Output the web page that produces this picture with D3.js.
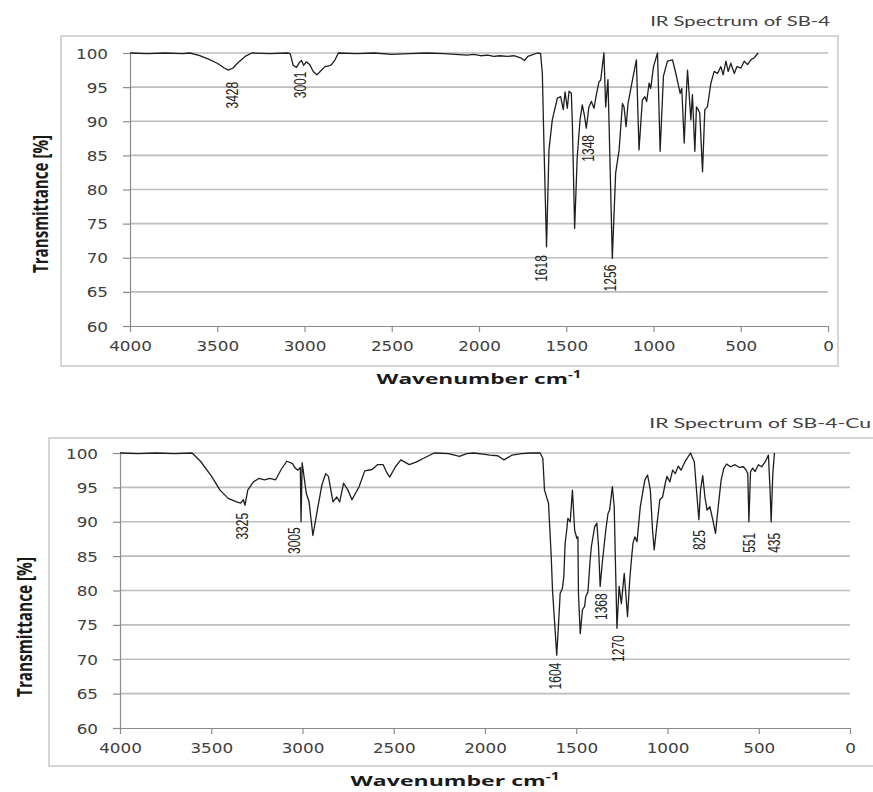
<!DOCTYPE html>
<html>
<head>
<meta charset="utf-8">
<script src="https://cdn.jsdelivr.net/npm/d3@7"></script>
<style>
body { margin: 0; background: #fff; }
svg { display: block; }
</style>
</head>
<body>
<div class="chart"></div>
<script>
// axis ticks (both panels)
const xTicks = [4000, 3500, 3000, 2500, 2000, 1500, 1000, 500, 0];
const yTicks = [60, 65, 70, 75, 80, 85, 90, 95, 100];

// SB-4 spectrum
const sb4Wn = [4000,3900,3800,3700,3656,3600,3550,3500,3460,3436,
  3410,3380,3340,3302,3200,3100,3082,3065,3046,3030,
  3017,3005,2990,2970,2950,2929,2910,2883,2860,2845,
  2825,2806,2700,2600,2500,2400,2300,2200,2068,2030,
  1991,1950,1915,1880,1838,1800,1762,1739,1720,1700,
  1666,1647,1637,1628,1613,1599,1580,1551,1532,1517,
  1507,1494,1484,1471,1465,1452,1437,1421,1408,1395,
  1385,1370,1356,1341,1326,1312,1303,1284,1274,1261,
  1255,1236,1217,1197,1178,1169,1157,1146,1121,1098,
  1083,1064,1050,1039,1025,1016,1000,977,962,943,
  920,891,872,847,838,824,815,805,796,786,
  777,763,754,744,735,719,706,691,671,652,
  633,614,601,585,572,557,537,522,499,480,
  461,442,423,400];
const sb4T = [100,99.9,100,99.9,100,99.6,99.1,98.5,97.8,97.5,
  97.8,98.6,99.5,100,99.9,100,99.9,98.2,97.9,98.6,
  98.9,98.2,98.7,98.3,97.3,96.8,97.3,98.0,98.1,98.3,
  99.0,100,99.9,100,99.8,99.9,100,99.9,99.7,99.8,
  99.6,99.7,99.5,99.6,99.5,99.6,99.3,98.9,99.5,99.7,
  100,99.9,97.0,86.8,71.6,85.8,90.2,93.4,93.6,91.7,
  94.3,91.9,94.4,94.1,89.7,74.3,84.8,90.2,92.4,90.7,
  89.0,92.1,92.9,91.9,94.1,95.8,96.0,100,92.1,96.1,
  90.0,69.9,82.4,85.8,92.6,92.1,89.2,92.6,96.0,99.0,
  85.8,93.1,93.6,92.9,95.6,94.8,98.0,100,85.6,96.6,
  98.8,99.0,97.0,94.1,94.8,86.8,92.6,97.5,94.1,90.2,
  93.9,85.6,92.1,91.7,91.2,82.6,91.7,92.1,95.6,97.3,
  97.0,98.0,96.8,98.8,97.3,98.5,97.0,98.0,97.8,98.8,
  98.3,99.0,99.3,100];
const sb4PeakWn = [3410, 3024, 1641, 1372, 1245];
const sb4PeakT = [97.1, 98.6, 71.7, 89.3, 70.3];
const sb4PeakText = ["3428", "3001", "1618", "1348", "1256"];

// SB-4-Cu spectrum
const cuWn = [4000,3900,3800,3700,3605,3559,3498,3452,3407,3361,
  3339,3324,3315,3300,3269,3239,3208,3178,3147,3117,
  3086,3056,3040,3025,3012,3008,3002,2979,2964,2943,
  2918,2894,2873,2858,2833,2812,2796,2775,2751,2729,
  2690,2659,2619,2589,2558,2537,2522,2491,2461,2415,
  2375,2339,2278,2200,2140,2100,2064,2000,1973,1930,
  1896,1851,1800,1750,1698,1683,1674,1652,1637,1630,
  1607,1598,1588,1576,1568,1561,1552,1546,1533,1521,
  1509,1497,1491,1488,1478,1466,1454,1448,1436,1424,
  1417,1399,1387,1378,1369,1356,1338,1326,1317,1302,
  1292,1286,1277,1265,1253,1237,1219,1207,1198,1189,
  1179,1167,1149,1124,1109,1094,1082,1073,1057,1042,
  1027,1012,1003,987,972,957,941,926,905,874,
  853,837,828,819,807,795,783,768,752,737,
  722,706,691,676,655,630,606,584,569,560,
  554,545,533,520,502,484,465,447,438,432,
  423,414];
const cuT = [100,99.9,100,99.9,100,98.8,96.6,94.6,93.4,92.9,
  92.7,93.2,92.4,94.6,95.8,96.3,96.1,96.3,96.1,97.6,
  98.8,98.5,97.8,97.5,97.9,90.0,98.6,94.1,92.9,88.0,
  91.8,95.3,97.0,96.6,92.9,93.6,92.9,95.6,94.6,93.2,
  95.1,97.4,97.6,98.3,98.3,97.1,96.5,98.0,99.0,98.3,
  98.7,99.2,100,99.9,99.5,99.9,100,99.8,99.7,99.6,
  99.0,99.7,99.9,100,100,99.2,94.6,92.7,84.9,80.0,
  70.6,74.7,79.6,80.3,82.0,86.9,88.8,90.5,90.0,94.6,
  88.8,87.6,87.8,79.6,73.7,77.2,77.7,79.1,79.8,84.4,
  86.4,89.3,89.8,86.4,80.6,84.4,88.8,91.2,91.7,95.1,
  92.2,84.9,74.5,80.6,78.1,82.5,76.2,81.5,84.4,86.9,
  87.8,87.1,92.2,96.1,96.8,94.6,88.8,85.9,89.8,93.2,
  93.6,95.6,96.6,95.8,97.5,97.0,98.1,97.5,98.7,100,
  98.7,93.2,90.3,94.6,96.7,93.6,91.7,92.2,90.3,88.3,
  92.2,96.1,97.8,98.4,98.0,98.3,97.9,98.0,97.5,97.0,
  90.0,97.3,97.8,97.3,98.3,98.0,98.7,99.7,94.6,90.0,
  97.0,100];
const cuPeakWn = [3331, 3041, 1616, 1364, 1271, 827, 553, 416];
const cuPeakT = [92.6, 90.5, 70.8, 80.9, 74.8, 90.1, 89.7, 89.7];
const cuPeakText = ["3325", "3005", "1604", "1368", "1270", "825", "551", "435"];

// the source figure is stretched sideways, so text gets a horizontal scale
const SX = 1.3;

const svg = d3.select(".chart").append("svg")
    .attr("width", 873)
    .attr("height", 792);

function stretchText(sel, x, y, width) {
    const natural = sel.node().getComputedTextLength();
    sel.attr("transform", `translate(${x},${y}) scale(${width / natural},1)`);
}

function drawSpectrum(lay, title, wn, tr, peakWn, peakT, peakText) {
    const g = svg.append("g");

    const x = d3.scaleLinear().domain([4000, 0]).range([lay.left, lay.right]);
    const y = d3.scaleLinear().domain([60, 100]).range([lay.bottom, lay.top]);

    g.append("rect")
        .attr("x", lay.box[0])
        .attr("y", lay.box[1])
        .attr("width", lay.box[2])
        .attr("height", lay.box[3])
        .attr("fill", "none")
        .attr("stroke", "#c8c8c8")
        .attr("stroke-width", 1.5);

    g.append("g").selectAll("line")
        .data(yTicks.slice(1))
        .join("line")
        .attr("x1", lay.left)
        .attr("x2", lay.right)
        .attr("y1", d => y(d))
        .attr("y2", d => y(d))
        .attr("stroke", "#bdbdbd")
        .attr("stroke-width", 1.6);

    const xAxis = g.append("g")
        .attr("transform", `translate(0,${lay.bottom})`)
        .call(d3.axisBottom(x).tickValues(xTicks).tickFormat(d3.format("d")).tickSize(6).tickSizeOuter(0));
    const yAxis = g.append("g")
        .attr("transform", `translate(${lay.left},0)`)
        .call(d3.axisLeft(y).tickValues(yTicks).tickFormat(d3.format("d")).tickSize(7).tickSizeOuter(0));

    [xAxis, yAxis].forEach(a => {
        a.select(".domain").attr("stroke", "#8c8c8c").attr("stroke-width", 1.2);
        a.selectAll(".tick line").attr("stroke", "#8c8c8c").attr("stroke-width", 1.2);
        a.selectAll(".tick text")
            .attr("fill", "#404040")
            .style("font-family", "'DejaVu Sans', sans-serif")
            .style("font-size", "14px");
    });
    xAxis.selectAll(".tick text")
        .attr("y", 0).attr("dy", 0)
        .attr("transform", "translate(0,25) scale(1.2,1)");
    yAxis.selectAll(".tick text")
        .attr("x", 0).attr("dy", "0.36em")
        .attr("transform", "translate(-22,0) scale(1.2,1)");

    const line = d3.line()
        .x(d => x(d[0]))
        .y(d => y(d[1]));

    g.append("path")
        .datum(d3.zip(wn, tr))
        .attr("d", line)
        .attr("fill", "none")
        .attr("stroke", "#1e1e1e")
        .attr("stroke-width", 1.3)
        .attr("stroke-linejoin", "round");

    // rotated peak labels hanging under each band
    g.append("g").selectAll("text")
        .data(d3.zip(peakWn, peakT, peakText))
        .join("text")
        .attr("transform", d => `translate(${x(d[0])},${y(d[1]) + 9}) scale(${SX},1) rotate(-90)`)
        .attr("text-anchor", "end")
        .attr("dy", "0.35em")
        .attr("fill", "#222")
        .style("font-family", "'Liberation Sans Narrow', 'Arial Narrow', sans-serif")
        .style("font-size", "12px")
        .text(d => d[2]);

    const t = g.append("text")
        .attr("text-anchor", "end")
        .attr("fill", "#404040")
        .style("font-family", "Lato, sans-serif")
        .style("font-size", "14px")
        .text(title);
    stretchText(t, lay.titleX, lay.titleY, lay.titleW);

    const xl = g.append("text")
        .attr("text-anchor", "middle")
        .attr("fill", "#1a1a1a")
        .style("font-family", "'Open Sans', sans-serif")
        .style("font-weight", "bold")
        .style("font-size", "15px");
    xl.append("tspan").text("Wavenumber cm");
    xl.append("tspan").attr("dy", -6).style("font-size", "10px").text("-1");
    stretchText(xl, lay.xLabelX, lay.xLabelY, lay.xLabelW);

    g.append("text")
        .attr("transform", `translate(${lay.yLabelX},${lay.yLabelY}) scale(1.4,1) rotate(-90)`)
        .attr("text-anchor", "middle")
        .attr("dy", "0.35em")
        .attr("fill", "#1a1a1a")
        .attr("textLength", lay.yLabelLen)
        .attr("lengthAdjust", "spacingAndGlyphs")
        .style("font-family", "'Open Sans', sans-serif")
        .style("font-weight", "bold")
        .style("font-size", "15px")
        .text("Transmittance [%]");
}

drawSpectrum({
    box: [61, 36, 777, 330],
    left: 130, right: 828, top: 53, bottom: 326,
    titleX: 830, titleY: 26, titleW: 180,
    xLabelX: 479, xLabelY: 384, xLabelW: 205,
    yLabelX: 41, yLabelY: 204, yLabelLen: 138
}, "IR Spectrum of SB-4", sb4Wn, sb4T, sb4PeakWn, sb4PeakT, sb4PeakText);

drawSpectrum({
    box: [49, 438, 840, 328],
    left: 120, right: 850, top: 453, bottom: 728,
    titleX: 871, titleY: 428, titleW: 222,
    xLabelX: 455, xLabelY: 786, xLabelW: 209,
    yLabelX: 25, yLabelY: 627, yLabelLen: 140
}, "IR Spectrum of SB-4-Cu", cuWn, cuT, cuPeakWn, cuPeakT, cuPeakText);
</script>
</body>
</html>
